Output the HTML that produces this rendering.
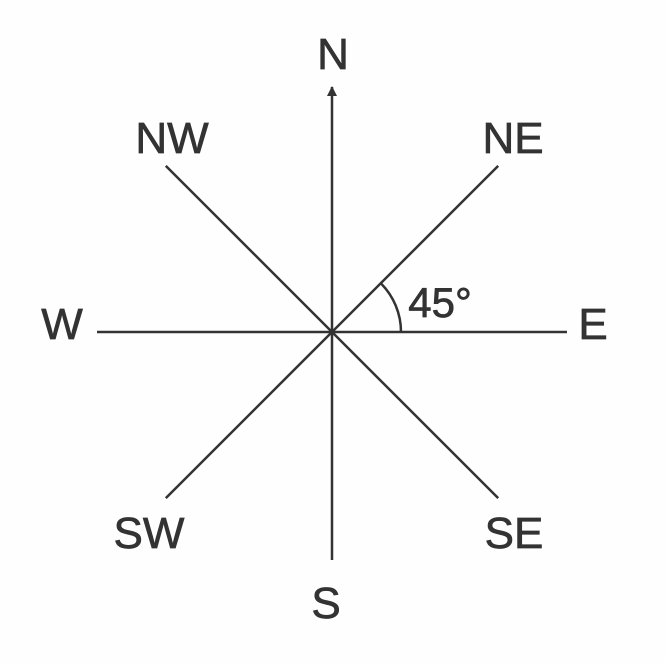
<!DOCTYPE html>
<html>
<head>
<meta charset="utf-8">
<style>
  html,body{margin:0;padding:0;background:#fefefe;}
  svg{display:block;}
  text{font-family:"Liberation Sans",sans-serif;fill:#333;stroke:#333;stroke-width:0.7;}
</style>
</head>
<body>
<svg id="chart" width="665" height="663" viewBox="0 0 665 663">
  <defs>
    <marker id="arrow" viewBox="0 0 10 10" refX="9" refY="5" markerWidth="13" markerHeight="10" orient="auto" markerUnits="userSpaceOnUse">
      <path d="M0,0 L10,5 L0,10 z" fill="#333"/>
    </marker>
  </defs>
  <g id="lines"></g>
  <g id="labels"></g>
</svg>
<script>
const directions = ["E","NE","N","NW","W","SW","S","SE"];
const angles = [0,45,90,135,180,225,270,315];
const lineLengths = [235,235,245,235,235,235,228,235];
const markedAngle = [45];

const NS="http://www.w3.org/2000/svg";
const cx=332, cy=332;
function pt(angleDeg, r){
  const a=angleDeg*Math.PI/180;
  return [cx+r*Math.cos(a), cy-r*Math.sin(a)];
}
const gl=document.getElementById('lines');
const gt=document.getElementById('labels');
const labelPos = {
  E:[593,339], NE:[513,153], N:[333,69], NW:[172,153],
  W:[62,339], SW:[149,548], S:[326,618], SE:[514,548]
};
directions.forEach((d,i)=>{
  const [x,y]=pt(angles[i], lineLengths[i]);
  const ln=document.createElementNS(NS,'line');
  ln.setAttribute('x1',cx);ln.setAttribute('y1',cy);
  ln.setAttribute('x2',x);ln.setAttribute('y2',y);
  ln.setAttribute('stroke','#333');ln.setAttribute('stroke-width','2.5');
  if(d==='N') ln.setAttribute('marker-end','url(#arrow)');
  
  
  gl.appendChild(ln);
  const p=labelPos[d] || pt(angles[i], lineLengths[i]+30);
  const t=document.createElementNS(NS,'text');
  t.setAttribute('x',p[0]);t.setAttribute('y',p[1]);
  t.setAttribute('text-anchor','middle');
  t.setAttribute('font-size','44');
  t.textContent=d;
  
  
  gt.appendChild(t);
});
const r=69;
const [ax,ay]=pt(markedAngle[0], r);
const arc=document.createElementNS(NS,'path');
arc.setAttribute('d',`M${cx+r},${cy} A${r},${r} 0 0 0 ${ax},${ay}`);
arc.setAttribute('fill','none');arc.setAttribute('stroke','#333');arc.setAttribute('stroke-width','2.5');


gl.appendChild(arc);
const at=document.createElementNS(NS,'text');
at.setAttribute('x',440);at.setAttribute('y',317);
at.setAttribute('text-anchor','middle');at.setAttribute('font-size','42');
at.textContent=markedAngle[0]+'°';


gt.appendChild(at);
</script>
</body>
</html>
